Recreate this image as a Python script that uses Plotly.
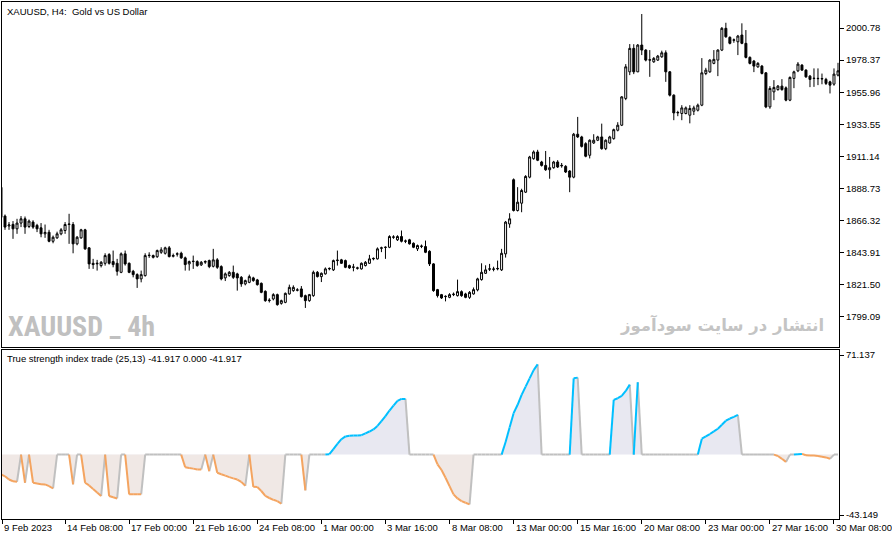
import plotly.graph_objects as go
from plotly.subplots import make_subplots

# ------------------------------------ DATA (XAUUSD H4, bar -1 = 9 Feb 2023 16:00) ------------------------------------

first_bar = -1

open_ = [1889.5, 1869.4, 1862.5, 1863.6, 1860.5, 1864.5, 1867.5, 1862.1, 1865.2, 1862.9,
         1861.2, 1857.0, 1858.1, 1851.8, 1854.2, 1857.0, 1859.3, 1863.5, 1863.5, 1850.0,
         1854.2, 1859.8, 1847.2, 1836.4, 1836.0, 1834.8, 1836.4, 1842.5, 1837.6, 1836.4,
         1830.1, 1843.0, 1836.4, 1830.8, 1828.5, 1825.5, 1827.8, 1841.8, 1841.8, 1841.0,
         1844.1, 1843.4, 1847.2, 1841.3, 1842.8, 1843.4, 1840.2, 1836.0, 1837.6, 1837.6,
         1835.3, 1837.2, 1838.3, 1834.3, 1838.8, 1834.1, 1826.2, 1827.8, 1830.1, 1829.0,
         1826.6, 1822.0, 1823.1, 1826.2, 1824.8, 1822.4, 1816.8, 1810.3, 1811.5, 1814.5,
         1808.4, 1809.1, 1815.0, 1817.3, 1817.6, 1818.5, 1813.8, 1810.3, 1813.8, 1830.1,
         1827.1, 1829.0, 1832.5, 1831.8, 1838.3, 1838.8, 1838.3, 1834.8, 1833.6, 1833.2,
         1832.5, 1834.8, 1836.4, 1839.5, 1839.5, 1846.9, 1847.5, 1847.6, 1854.6, 1852.8,
         1855.1, 1851.8, 1852.8, 1850.4, 1846.5, 1848.2, 1848.1, 1844.8, 1836.0, 1818.0,
         1814.5, 1813.1, 1812.6, 1814.5, 1813.8, 1816.6, 1815.0, 1812.6, 1815.0, 1817.8,
         1825.0, 1829.4, 1832.3, 1832.2, 1832.5, 1831.8, 1843.0, 1863.9, 1894.8, 1873.3,
         1878.4, 1886.1, 1896.6, 1909.5, 1914.2, 1907.2, 1904.8, 1901.8, 1903.2, 1907.2,
         1904.5, 1904.1, 1900.9, 1896.6, 1926.6, 1924.7, 1920.0, 1911.9, 1920.5, 1922.4,
         1924.7, 1916.5, 1920.5, 1923.5, 1929.4, 1932.9, 1951.6, 1970.2, 1986.6, 1970.2,
         1988.9, 1985.4, 1978.4, 1977.2, 1978.4, 1980.7, 1983.5, 1970.2, 1953.9, 1941.5,
         1941.1, 1941.1, 1939.9, 1942.7, 1943.4, 1946.9, 1969.0, 1970.2, 1976.1, 1978.4,
         1985.4, 2000.6, 1994.3, 1992.3, 1991.2, 1995.9, 1990.1, 1980.3, 1977.7, 1973.7,
         1974.2, 1969.5, 1945.7, 1956.2, 1957.8, 1960.2, 1959.0, 1950.4, 1965.6, 1970.9,
         1974.9, 1971.4, 1967.2, 1965.5, 1965.4, 1965.2, 1964.9, 1963.2, 1961.6, 1967.9]

high = [1890.5, 1870.5, 1865.2, 1865.9, 1867.5, 1869.4, 1869.1, 1867.0, 1866.5, 1864.0,
        1864.5, 1863.5, 1859.8, 1855.8, 1858.5, 1861.0, 1865.2, 1871.0, 1865.2, 1855.5,
        1860.5, 1860.5, 1847.6, 1839.5, 1838.8, 1838.0, 1843.4, 1843.5, 1845.3, 1839.5,
        1844.0, 1845.3, 1837.0, 1831.8, 1829.4, 1831.3, 1843.4, 1844.1, 1842.5, 1846.0,
        1847.6, 1848.0, 1848.5, 1843.2, 1844.1, 1844.5, 1841.1, 1838.3, 1841.8, 1838.5,
        1838.0, 1838.5, 1839.0, 1846.5, 1840.0, 1835.0, 1830.0, 1831.0, 1834.8, 1829.8,
        1827.5, 1825.0, 1828.5, 1827.0, 1825.5, 1823.0, 1817.5, 1812.0, 1815.5, 1815.2,
        1811.0, 1816.0, 1821.5, 1821.0, 1819.0, 1820.5, 1814.5, 1815.0, 1831.3, 1831.0,
        1830.0, 1833.5, 1833.5, 1839.0, 1845.3, 1839.5, 1839.0, 1835.5, 1836.0, 1834.0,
        1837.0, 1838.0, 1842.3, 1840.5, 1847.5, 1848.0, 1848.2, 1856.0, 1856.0, 1856.0,
        1859.3, 1853.0, 1853.5, 1851.0, 1849.5, 1849.5, 1852.3, 1845.5, 1836.5, 1818.5,
        1815.0, 1814.0, 1815.5, 1816.0, 1825.0, 1817.5, 1815.8, 1817.0, 1819.5, 1826.3,
        1836.4, 1835.0, 1836.0, 1834.0, 1838.3, 1846.5, 1866.0, 1871.4, 1895.7, 1889.6,
        1888.5, 1898.0, 1911.5, 1915.3, 1915.7, 1908.0, 1914.9, 1910.7, 1908.0, 1908.5,
        1906.5, 1905.0, 1901.5, 1927.5, 1938.7, 1925.5, 1921.0, 1923.0, 1926.6, 1925.5,
        1934.0, 1923.0, 1925.5, 1930.5, 1935.0, 1953.2, 1975.6, 1989.6, 1989.5, 1989.6,
        2010.6, 1986.0, 1985.4, 1980.5, 1982.0, 1985.0, 1985.2, 1970.8, 1954.5, 1943.0,
        1946.9, 1946.0, 1946.9, 1946.5, 1948.0, 1979.8, 1973.0, 1979.0, 1985.4, 1986.0,
        2001.5, 2004.5, 1995.0, 1993.5, 1996.0, 2004.1, 1999.4, 1981.0, 1978.5, 1977.0,
        1975.0, 1970.0, 1960.2, 1964.4, 1961.0, 1965.1, 1960.0, 1967.0, 1971.0, 1977.0,
        1975.6, 1972.0, 1968.0, 1972.6, 1972.6, 1969.0, 1966.0, 1964.0, 1972.6, 1976.5]

low = [1867.0, 1859.8, 1859.8, 1853.5, 1857.0, 1861.7, 1857.0, 1861.0, 1860.5, 1858.2,
       1854.6, 1854.2, 1851.1, 1850.4, 1853.5, 1856.0, 1857.0, 1850.0, 1843.4, 1849.0,
       1853.5, 1845.8, 1832.5, 1832.5, 1831.3, 1833.5, 1834.8, 1835.5, 1833.6, 1827.8,
       1829.5, 1834.8, 1829.5, 1826.6, 1819.2, 1823.1, 1827.1, 1840.2, 1839.8, 1840.2,
       1843.0, 1842.5, 1840.5, 1840.5, 1841.1, 1839.5, 1831.3, 1831.3, 1832.5, 1834.0,
       1834.5, 1836.0, 1833.0, 1833.5, 1832.5, 1824.5, 1824.0, 1827.0, 1825.5, 1817.3,
       1820.0, 1821.0, 1822.5, 1823.5, 1820.8, 1815.5, 1809.5, 1809.0, 1810.5, 1806.8,
       1807.5, 1808.5, 1814.5, 1816.5, 1816.8, 1812.5, 1805.2, 1809.5, 1813.0, 1826.5,
       1823.3, 1828.5, 1831.5, 1831.0, 1834.8, 1836.0, 1833.0, 1832.5, 1830.8, 1832.0,
       1832.0, 1834.2, 1836.0, 1838.5, 1839.0, 1844.2, 1839.5, 1847.0, 1853.5, 1852.0,
       1851.0, 1850.5, 1849.5, 1847.0, 1845.0, 1847.0, 1843.5, 1834.5, 1816.5, 1812.5,
       1811.5, 1809.8, 1812.0, 1813.5, 1813.2, 1813.0, 1812.0, 1811.5, 1814.5, 1816.8,
       1824.3, 1829.0, 1831.0, 1830.8, 1831.5, 1831.0, 1840.4, 1861.2, 1872.6, 1872.6,
       1872.1, 1885.5, 1895.8, 1908.8, 1907.8, 1904.0, 1901.0, 1895.5, 1902.5, 1903.0,
       1903.2, 1899.5, 1886.1, 1895.8, 1924.0, 1917.3, 1910.5, 1909.7, 1919.8, 1921.8,
       1915.8, 1915.5, 1920.0, 1922.8, 1928.6, 1932.3, 1950.4, 1967.9, 1968.6, 1970.0,
       1981.9, 1977.5, 1966.7, 1976.5, 1977.8, 1980.0, 1963.2, 1953.0, 1936.4, 1939.2,
       1936.4, 1940.5, 1934.2, 1940.0, 1942.5, 1946.2, 1967.9, 1969.5, 1975.5, 1967.2,
       1984.7, 1994.0, 1989.4, 1990.5, 1981.9, 1989.5, 1979.6, 1975.4, 1970.0, 1973.0,
       1968.4, 1944.8, 1944.4, 1950.4, 1957.0, 1957.0, 1949.6, 1949.7, 1958.8, 1970.0,
       1970.8, 1966.0, 1959.5, 1959.7, 1960.9, 1961.5, 1961.0, 1955.1, 1960.5, 1967.0]

close = [1868.5, 1861.7, 1863.2, 1860.5, 1864.5, 1867.5, 1861.7, 1865.9, 1861.7, 1860.5,
         1857.0, 1858.0, 1851.8, 1854.6, 1857.0, 1859.8, 1863.5, 1863.8, 1850.0, 1854.6,
         1859.8, 1846.5, 1836.0, 1835.5, 1836.4, 1837.1, 1841.8, 1836.4, 1835.5, 1830.8,
         1843.0, 1836.0, 1830.1, 1828.5, 1825.5, 1828.5, 1841.8, 1842.0, 1840.6, 1845.3,
         1845.8, 1847.2, 1841.1, 1841.8, 1843.0, 1840.2, 1835.5, 1837.6, 1837.8, 1834.8,
         1837.1, 1837.6, 1834.1, 1838.8, 1833.6, 1825.5, 1829.0, 1830.1, 1826.6, 1826.2,
         1822.0, 1824.3, 1827.1, 1824.3, 1821.5, 1816.1, 1810.3, 1810.6, 1814.5, 1807.5,
         1810.3, 1815.4, 1819.6, 1819.6, 1817.8, 1813.1, 1810.3, 1814.5, 1830.1, 1827.1,
         1829.4, 1832.5, 1832.8, 1838.3, 1838.6, 1836.4, 1833.6, 1833.2, 1833.8, 1833.0,
         1836.4, 1837.1, 1839.5, 1839.8, 1846.5, 1847.2, 1847.6, 1855.1, 1854.8, 1855.1,
         1851.8, 1852.0, 1850.0, 1847.6, 1848.8, 1848.4, 1844.1, 1836.0, 1817.3, 1813.8,
         1812.2, 1813.3, 1814.5, 1814.8, 1816.6, 1813.8, 1812.6, 1816.1, 1818.0, 1825.5,
         1830.1, 1831.8, 1832.5, 1832.4, 1832.8, 1843.4, 1865.2, 1867.5, 1873.3, 1879.1,
         1887.3, 1897.1, 1910.7, 1914.2, 1908.4, 1904.8, 1901.8, 1903.2, 1907.2, 1903.7,
         1904.8, 1900.2, 1896.6, 1926.6, 1924.7, 1918.1, 1911.2, 1922.4, 1922.4, 1924.7,
         1916.5, 1922.4, 1924.7, 1929.8, 1932.9, 1952.7, 1973.7, 1986.6, 1970.2, 1988.9,
         1985.4, 1978.4, 1978.6, 1979.6, 1981.2, 1983.5, 1970.2, 1953.9, 1941.5, 1941.8,
         1945.0, 1945.0, 1944.6, 1945.0, 1946.9, 1969.5, 1971.4, 1978.4, 1978.9, 1985.4,
         2000.6, 1994.7, 1990.1, 1992.5, 1995.2, 1990.1, 1980.3, 1976.1, 1974.2, 1976.1,
         1969.1, 1945.7, 1958.6, 1959.3, 1960.2, 1957.8, 1950.4, 1966.3, 1970.2, 1975.6,
         1971.4, 1966.7, 1964.9, 1965.7, 1965.6, 1965.5, 1962.1, 1960.9, 1968.6, 1970.9]

# True strength index trade (25,13): 0 when no signal
tsi = [-14.2, -15.5, -17.8, -19.0, -19.4, 0, -20.1, 0, -20.1, -20.6,
       -21.1, -21.3, -22.5, -24.2, 0, 0, 0, 0, -21.3, 0,
       0, -20.1, -22.0, -24.5, -27.0, -29.6, 0, -29.6, -30.5, -31.3,
       0, 0, -28.4, -28.4, -28.4, -28.4, 0, 0, 0, 0,
       0, 0, 0, 0, 0, 0, -9.0, -9.5, -10.0, -10.7,
       -10.7, 0, -11.9, 0, -13.0, -14.0, -15.0, -16.1, -17.0, -17.8,
       -19.5, -22.3, 0, -23.0, -23.2, -26.0, -29.5, -31.0, -32.3, -33.2,
       -35.1, 0, 0, 0, 0, 0, -25.6, 0, 0, 0,
       0, 0, 0.3, 4.0, 7.6, 11.0, 13.0, 13.5, 13.7, 13.7,
       13.9, 15.2, 16.5, 18.0, 20.5, 24.0, 27.5, 31.5, 35.0, 38.4,
       39.8, 39.8, 0, 0, 0, 0, 0, 0, 0, -7.0,
       -11.0, -16.5, -22.5, -28.4, -31.3, -33.2, -34.4, -35.6, 0, 0,
       0, 0, 0, 0, 0, 0, 9.0, 19.4, 29.6, 35.6,
       42.7, 48.6, 54.5, 60.4, 64.5, 0, 0, 0, 0, 0,
       0, 0, 0, 54.5, 55.0, 0, 0, 0, 0, 0,
       0, 0, 0, 39.1, 40.3, 42.0, 45.5, 50.0, 0, 51.7,
       0, 0, 0, 0, 0, 0, 0, 0, 0, 0,
       0, 0, 0, 0, 0, 11.4, 13.0, 14.7, 16.6, 18.5,
       21.3, 24.2, 25.8, 27.0, 28.4, 0, 0, 0, 0, 0,
       0, 0, 0, 0, -1.0, -3.0, -5.2, 0, 0, 0.3,
       0.5, -0.5, -0.7, -0.7, -1.0, -1.5, -2.0, -3.0, 0, 0]

bars = list(range(first_bar, first_bar + len(close)))

time_ticks = [-1, 15, 31, 47, 63, 79, 95, 111, 127, 143, 159, 175, 191, 207]
time_labels = ['9 Feb 2023', '14 Feb 08:00', '17 Feb 00:00', '21 Feb 16:00', '24 Feb 08:00',
               '1 Mar 00:00', '3 Mar 16:00', '8 Mar 08:00', '13 Mar 00:00', '15 Mar 16:00',
               '20 Mar 08:00', '23 Mar 00:00', '27 Mar 16:00', '30 Mar 08:00']

price_ticks = [2000.78, 1978.37, 1955.96, 1933.55, 1911.14, 1888.73, 1866.32, 1843.91, 1821.50, 1799.09]
tsi_ticks = [71.137, -43.149]

#------------------------------------ HELPERS ------------------------------------

def colour_segments(values, test):
    # mt5 colour line: the segment ending on bar k takes the colour of bar k
    xs, ys = [], []
    for k in range(1, len(values)):
        if test(values[k]):
            xs += [bars[k - 1], bars[k], None]
            ys += [values[k - 1], values[k], None]
    return xs, ys

FONT = 'Liberation Sans'
X_RANGE = [-0.75, 208.25]

#------------------------------------ FIGURE ------------------------------------

fig = make_subplots(rows=2, cols=1, shared_xaxes=True, vertical_spacing=0.0045,
                    row_heights=[0.6712, 0.3288])

fig.add_trace(go.Candlestick(
    x=bars, open=open_, high=high, low=low, close=close,
    increasing=dict(line=dict(color='black', width=1), fillcolor='white'),
    decreasing=dict(line=dict(color='black', width=1), fillcolor='black'),
    whiskerwidth=0, showlegend=False, hoverinfo='skip'), row=1, col=1)

# filled area between the line and zero
fig.add_trace(go.Scatter(x=bars, y=[min(v, 0) for v in tsi], mode='lines', line=dict(width=0),
                         fill='tozeroy', fillcolor='rgb(240,232,229)', showlegend=False,
                         hoverinfo='skip'), row=2, col=1)
fig.add_trace(go.Scatter(x=bars, y=[max(v, 0) for v in tsi], mode='lines', line=dict(width=0),
                         fill='tozeroy', fillcolor='rgb(232,232,241)', showlegend=False,
                         hoverinfo='skip'), row=2, col=1)

for test, colour in [(lambda v: v == 0, 'rgb(192,192,192)'),
                     (lambda v: v < 0, 'rgb(244,164,96)'),
                     (lambda v: v > 0, 'rgb(0,191,255)')]:
    sx, sy = colour_segments(tsi, test)
    fig.add_trace(go.Scatter(x=sx, y=sy, mode='lines', line=dict(color=colour, width=2),
                             showlegend=False, hoverinfo='skip', connectgaps=False), row=2, col=1)

axis_style = dict(showline=True, linecolor='black', linewidth=1, mirror=True,
                  showgrid=False, zeroline=False, tickfont=dict(family=FONT, size=9.5, color='black'))

fig.update_xaxes(range=X_RANGE, rangeslider_visible=False, **axis_style)
fig.update_xaxes(showticklabels=False, ticks='', row=1, col=1)
fig.update_xaxes(tickvals=[max(t, X_RANGE[0] + 0.05) for t in time_ticks],
                 ticktext=[''] * len(time_ticks), ticks='outside',
                 ticklen=4, tickcolor='black', row=2, col=1)

fig.update_yaxes(side='right', ticks='outside', ticklen=4, tickcolor='black', **axis_style)
fig.update_yaxes(range=[1777.6, 2019.0], tickvals=price_ticks,
                 ticktext=['%.2f' % p for p in price_ticks], row=1, col=1)
fig.update_yaxes(range=[-46.0, 74.9], tickvals=tsi_ticks,
                 ticktext=['%.3f' % t for t in tsi_ticks], row=2, col=1)

# time labels start at their tick, as in the terminal
for tick, label in zip(time_ticks, time_labels):
    fig.add_annotation(x=max(tick, X_RANGE[0] + 0.05), y=0, xref='x2', yref='paper', text=label,
                       showarrow=False, xanchor='left', yanchor='top', xshift=0, yshift=-1,
                       font=dict(family=FONT, size=9.5, color='black'))

fig.add_annotation(x=0.004, y=1, xref='paper', yref='paper', showarrow=False,
                   text='XAUUSD, H4:\u00a0 Gold vs US Dollar', xanchor='left', yanchor='top',
                   yshift=-2, font=dict(family=FONT, size=9.5, color='black'))
fig.add_annotation(x=0.004, y=0.3288, xref='paper', yref='paper', showarrow=False,
                   text='True strength index trade (25,13) -41.917 0.000 -41.917',
                   xanchor='left', yanchor='top', yshift=-2,
                   font=dict(family=FONT, size=9.5, color='black'))

# watermarks
fig.add_annotation(x=0.005, y=0.3333, xref='paper', yref='paper', showarrow=False,
                   text='<b>XAUUSD _ 4h</b>', xanchor='left', yanchor='bottom', yshift=2,
                   font=dict(family='Roboto Condensed, DejaVu Sans Condensed, Liberation Sans Narrow, Liberation Sans',
                             size=28, color='rgb(192,192,192)'))
fig.add_annotation(x=0.985, y=0.3333, xref='paper', yref='paper', showarrow=False,
                   text='<b>انتشار در سایت سودآموز</b>', xanchor='right', yanchor='bottom',
                   yshift=9, font=dict(family='DejaVu Sans', size=16.5, color='rgb(196,196,196)'))

fig.update_layout(width=892, height=541, margin=dict(l=2, r=53, t=2, b=22),
                  paper_bgcolor='white', plot_bgcolor='white', boxgap=0.3)

fig.write_html("out.html", config={'displayModeBar': False},
               post_script="document.body.style.margin='0';document.body.style.overflow='hidden';")
